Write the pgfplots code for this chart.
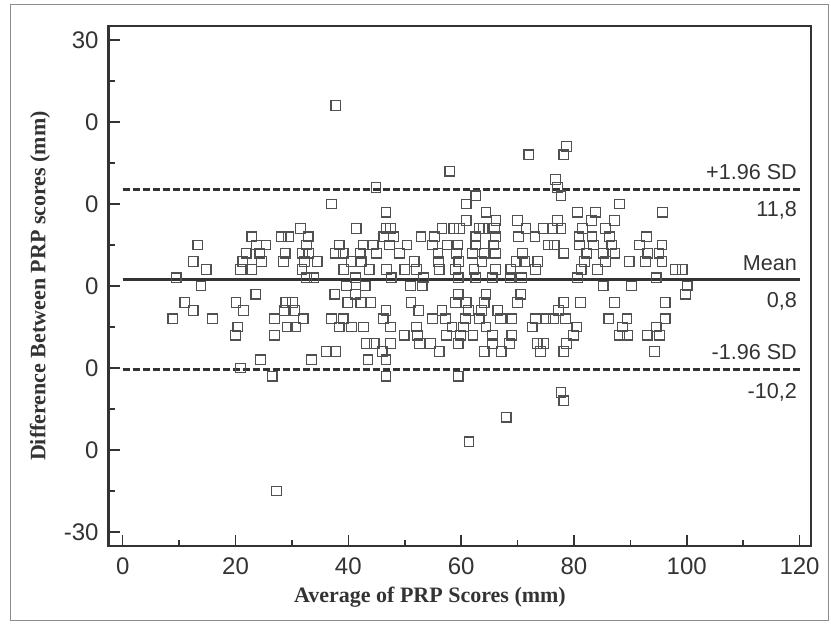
\documentclass[border=0pt]{standalone}
\usepackage{fontspec}
\setmainfont{Liberation Sans}
\newfontfamily\serifb{Liberation Serif}
\usepackage{pgfplots}
\usepackage{pgfplotstable}
\pgfplotsset{compat=1.18}
\definecolor{ink}{HTML}{333333}
\definecolor{mk}{HTML}{505050}

\pgfplotstableread{
x y
37.8 22
78.7 17
72.0 16
78.2 16
58.0 14
76.7 13
44.9 12
77.1 12
62.6 11
77.7 11
37.0 10
60.9 10
88.1 10
46.7 9
64.4 9
80.6 9
83.8 9
95.7 9
60.9 8
66.2 8
70.0 8
77.1 8
83.1 8
87.2 8
31.5 7
41.4 7
46.7 7
47.5 7
56.6 7
58.7 7
59.7 7
63.2 7
63.9 7
65.9 7
71.5 7
74.6 7
76.2 7
77.7 7
81.5 7
85.6 7
22.9 6
28.1 6
29.4 6
32.9 6
46.3 6
48.0 6
52.9 6
55.3 6
62.6 6
66.1 6
70.2 6
73.1 6
80.9 6
83.2 6
86.3 6
92.9 6
13.3 5
23.7 5
25.4 5
32.6 5
38.4 5
42.6 5
44.4 5
47.3 5
50.4 5
54.9 5
57.5 5
59.4 5
62.6 5
65.8 5
75.4 5
76.5 5
81.0 5
83.5 5
86.7 5
91.6 5
95.6 5
21.9 4
24.3 4
28.8 4
31.9 4
33.0 4
37.7 4
39.1 4
42.1 4
45.0 4
49.1 4
55.9 4
59.2 4
62.0 4
64.1 4
66.1 4
70.9 4
78.2 4
82.3 4
85.2 4
87.3 4
93.1 4
95.1 4
12.5 3
21.3 3
24.6 3
28.5 3
32.2 3
34.5 3
40.5 3
42.3 3
51.7 3
56.0 3
59.6 3
63.7 3
69.8 3
71.3 3
73.6 3
81.9 3
85.6 3
89.8 3
92.7 3
95.6 3
14.8 2
20.9 2
22.9 2
31.8 2
39.2 2
43.7 2
46.8 2
50.0 2
52.1 2
56.1 2
59.0 2
62.3 2
66.1 2
68.8 2
73.2 2
81.3 2
84.2 2
98.0 2
99.2 2
9.5 1
32.6 1
33.9 1
41.3 1
47.6 1
53.3 1
59.5 1
62.6 1
65.5 1
68.7 1
70.7 1
80.6 1
94.6 1
13.9 0
39.7 0
43.0 0
51.0 0
53.1 0
85.2 0
90.2 0
100.1 0
23.6 -1
37.6 -1
41.3 -1
59.5 -1
64.4 -1
70.6 -1
99.8 -1
11.0 -2
20.1 -2
28.9 -2
30.1 -2
39.9 -2
42.2 -2
44.0 -2
51.1 -2
59.0 -2
60.9 -2
64.1 -2
70.0 -2
78.2 -2
81.2 -2
87.2 -2
96.2 -2
12.5 -3
21.4 -3
28.6 -3
30.5 -3
46.7 -3
52.5 -3
56.6 -3
61.3 -3
63.6 -3
66.5 -3
77.3 -3
8.9 -4
15.9 -4
26.9 -4
32.0 -4
37.0 -4
39.1 -4
46.2 -4
54.9 -4
57.2 -4
60.8 -4
63.2 -4
67.0 -4
69.0 -4
73.2 -4
75.0 -4
76.4 -4
78.5 -4
86.2 -4
89.4 -4
96.2 -4
20.4 -5
29.2 -5
30.7 -5
38.4 -5
40.6 -5
42.7 -5
47.5 -5
52.1 -5
58.4 -5
60.4 -5
64.4 -5
72.6 -5
80.5 -5
88.6 -5
94.6 -5
20.0 -6
26.9 -6
49.9 -6
52.3 -6
57.4 -6
59.9 -6
62.1 -6
65.6 -6
69.0 -6
79.9 -6
88.1 -6
89.5 -6
93.0 -6
95.2 -6
43.2 -7
44.6 -7
47.5 -7
52.6 -7
54.6 -7
59.5 -7
65.6 -7
68.6 -7
73.5 -7
74.6 -7
78.7 -7
36.1 -8
37.8 -8
46.0 -8
56.1 -8
64.1 -8
67.1 -8
74.1 -8
78.2 -8
94.3 -8
24.4 -9
33.5 -9
43.5 -9
46.7 -9
20.9 -10
26.5 -11
46.7 -11
59.5 -11
77.7 -13
78.2 -14
68.0 -16
61.4 -19
27.3 -25
}\pts

\begin{document}
\begin{tikzpicture}[x=1pt,y=1pt]
\path (0,0) rectangle (415.5,313.5);
\draw[black!45, line width=0.5pt] (5,3) rectangle (414,311);
\begin{axis}[
  at={(54.3pt,40.5pt)}, anchor=south west,
  scale only axis, width=351.1pt, height=260pt,
  xmin=-2.5, xmax=122, ymin=-31.7, ymax=31.7,
  axis line style={ink, line width=1.3pt},
  xtick={0,20,...,120}, ytick={-30,-20,...,30},
  yticklabels={-30,0,0,0,0,0,30},
  minor x tick num=1, minor y tick num=1,
  tick align=inside, xtick pos=bottom, ytick pos=left,
  major tick length=5.5pt, minor tick length=3pt,
  tick style={ink, line width=0.8pt},
  ticklabel style={font=\fontsize{12}{14}\selectfont, text=ink},
  xticklabel style={yshift=-2.5pt},
  yticklabel style={xshift=-1.5pt},
  /pgf/number format/assume math mode=true,
  xlabel={Average of PRP Scores (mm)},
  ylabel={Difference Between PRP scores (mm)},
  label style={font=\serifb\bfseries\fontsize{11}{13}\selectfont, text=ink},
  xlabel style={at={([yshift=-25.5pt]axis description cs:0.4577,0)}, anchor=center},
  ylabel style={at={([xshift=-34.3pt]axis description cs:0,0.5)}, anchor=center},
  clip=false,
]
\addplot[ink, line width=1.1pt] coordinates {(0,0.8) (120,0.8)};
\addplot[ink, line width=1.5pt, dash pattern=on 3.5pt off 1.5pt] coordinates {(0,11.8) (120,11.8)};
\addplot[ink, line width=1.5pt, dash pattern=on 3.5pt off 1.5pt] coordinates {(0,-10.2) (120,-10.2)};
\addplot[only marks, mark=square, mark size=2.4pt, mark options={draw=mk, line width=0.6pt}] table[x=x,y=y] {\pts};
\tikzset{ann/.style={font=\fontsize{10.8}{12}\selectfont, text=ink, inner sep=0pt}}
\node[ann, anchor=base east, yshift=5pt] at (axis cs:119.6,11.8) {+1.96 SD};
\node[ann, anchor=north east, yshift=-6pt] at (axis cs:119.6,11.8) {11,8};
\node[ann, anchor=base east, yshift=4.7pt] at (axis cs:119.6,0.8) {Mean};
\node[ann, anchor=north east, yshift=-6.3pt] at (axis cs:119.6,0.8) {0,8};
\node[ann, anchor=base east, yshift=5.3pt] at (axis cs:119.6,-10.2) {-1.96 SD};
\node[ann, anchor=north east, yshift=-6.8pt] at (axis cs:119.6,-10.2) {-10,2};
\end{axis}
\end{tikzpicture}
\end{document}
